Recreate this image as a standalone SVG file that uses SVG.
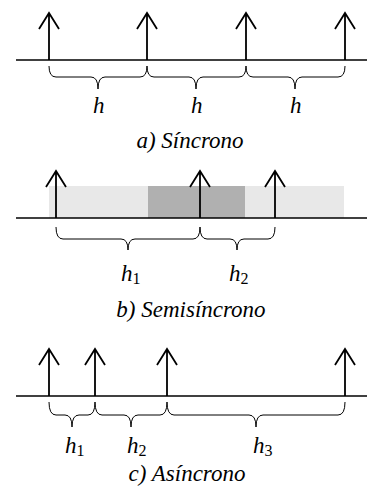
<svg xmlns="http://www.w3.org/2000/svg" width="367" height="486" viewBox="0 0 367 486">
<defs>
<path id="up" d="M0,0 V-47 M-10,-31 L0,-47 L10,-31" stroke="#000" stroke-width="1.8" fill="none"/>
</defs>
<rect width="367" height="486" fill="#fff"/>
<g id="panel-a">
<line x1="16" y1="60" x2="367" y2="60" stroke="#000" stroke-width="1.6"/>
<use href="#up" x="49" y="60"/>
<use href="#up" x="147" y="60"/>
<use href="#up" x="246" y="60"/>
<use href="#up" x="345" y="60"/>
<g stroke="#000" stroke-width="1" fill="none">
<path d="M49,66 Q49,77 56,77 L91,77 Q98,77 98,89 Q98,77 105,77 L140,77 Q147,77 147,66"/>
<path d="M147,66 Q147,77 154,77 L189,77 Q196,77 196,89 Q196,77 203,77 L239,77 Q246,77 246,66"/>
<path d="M246,66 Q246,77 253,77 L288,77 Q295,77 295,89 Q295,77 302,77 L338,77 Q345,77 345,66"/>
</g>
<text x="93" y="113" font-family="Liberation Serif" font-style="oblique" font-size="23">h</text>
<text x="191" y="113" font-family="Liberation Serif" font-style="oblique" font-size="23">h</text>
<text x="290" y="113" font-family="Liberation Serif" font-style="oblique" font-size="23">h</text>
<text x="190" y="148" font-family="Liberation Serif" font-style="oblique" font-size="23" text-anchor="middle">a) Síncrono</text>
</g>
<g id="panel-b">
<rect x="49" y="186" width="99" height="32" fill="#e8e8e8"/>
<rect x="148" y="186" width="97" height="32" fill="#b0b0b0"/>
<rect x="245" y="186" width="99" height="32" fill="#e8e8e8"/>
<line x1="16" y1="218" x2="367" y2="218" stroke="#000" stroke-width="1.6"/>
<use href="#up" x="56" y="218"/>
<use href="#up" x="200" y="218"/>
<use href="#up" x="275" y="218"/>
<g stroke="#000" stroke-width="1" fill="none">
<path d="M56,227 Q56,239 63,239 L121,239 Q128,239 128,250 Q128,239 135,239 L193,239 Q200,239 200,227"/>
<path d="M200,227 Q200,239 207,239 L230,239 Q237,239 237,250 Q237,239 244,239 L268,239 Q275,239 275,227"/>
</g>
<text x="121" y="281" font-family="Liberation Serif" font-style="oblique" font-size="23">h<tspan font-style="normal" font-size="16" dy="3">1</tspan></text>
<text x="229" y="281" font-family="Liberation Serif" font-style="oblique" font-size="23">h<tspan font-style="normal" font-size="16" dy="3">2</tspan></text>
<text x="191" y="317" font-family="Liberation Serif" font-style="oblique" font-size="23" text-anchor="middle">b) Semisíncrono</text>
</g>
<g id="panel-c">
<line x1="16" y1="396" x2="367" y2="396" stroke="#000" stroke-width="1.6"/>
<use href="#up" x="49" y="396"/>
<use href="#up" x="95" y="396"/>
<use href="#up" x="167" y="396"/>
<use href="#up" x="345" y="396"/>
<g stroke="#000" stroke-width="1" fill="none">
<path d="M49,402 Q49,415 56,415 L65,415 Q72,415 72,427 Q72,415 79,415 L88,415 Q95,415 95,402"/>
<path d="M95,402 Q95,415 102,415 L124,415 Q131,415 131,427 Q131,415 138,415 L160,415 Q167,415 167,402"/>
<path d="M167,402 Q167,415 174,415 L249,415 Q256,415 256,427 Q256,415 263,415 L338,415 Q345,415 345,402"/>
</g>
<text x="65" y="453" font-family="Liberation Serif" font-style="oblique" font-size="23">h<tspan font-style="normal" font-size="16" dy="3">1</tspan></text>
<text x="127" y="453" font-family="Liberation Serif" font-style="oblique" font-size="23">h<tspan font-style="normal" font-size="16" dy="3">2</tspan></text>
<text x="253" y="453" font-family="Liberation Serif" font-style="oblique" font-size="23">h<tspan font-style="normal" font-size="16" dy="3">3</tspan></text>
<text x="187" y="481" font-family="Liberation Serif" font-style="oblique" font-size="23" text-anchor="middle">c) Asíncrono</text>
</g>
</svg>
